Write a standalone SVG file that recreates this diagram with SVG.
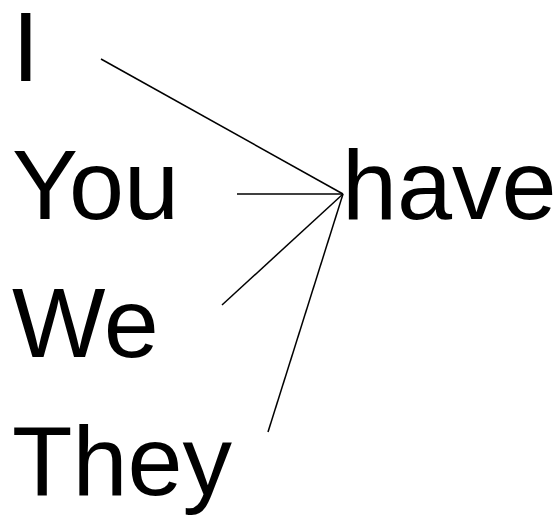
<svg xmlns="http://www.w3.org/2000/svg" width="559" height="516" viewBox="0 0 559 516">
<style>
text{font-family:"Liberation Sans",Arial,sans-serif;font-size:99px;fill:#000}
.c line{stroke:#000;stroke-width:1.5;fill:none}
</style>
<rect width="559" height="516" fill="#fff"/>
<g id="n-I"><text x="12" y="81">I</text></g>
<g id="n-You"><text x="12" y="219">You</text></g>
<g id="n-We"><text x="12" y="357">We</text></g>
<g id="n-They"><text x="12" y="495">They</text></g>
<g id="n-have"><text x="342" y="219">have</text></g>
<g class="c" id="connectors">
<line x1="101" y1="59" x2="343" y2="194"/>
<line x1="237" y1="194" x2="343" y2="194"/>
<line x1="222" y1="305" x2="343" y2="194"/>
<line x1="268" y1="432" x2="343" y2="194"/>
</g>
</svg>
